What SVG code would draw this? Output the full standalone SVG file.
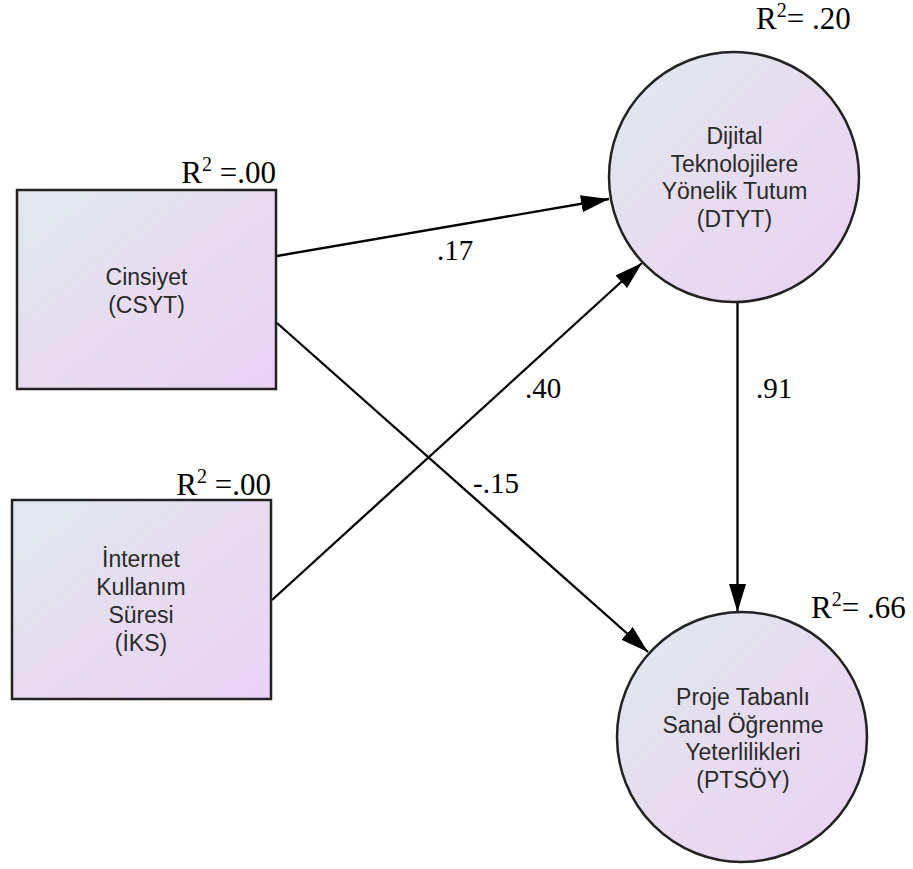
<svg xmlns="http://www.w3.org/2000/svg" width="913" height="869" viewBox="0 0 913 869">
  <defs>
    <linearGradient id="nodeFill" x1="0" y1="0" x2="1" y2="1">
      <stop offset="0" stop-color="#dfe9eb"/>
      <stop offset="0.5" stop-color="#e6dcf0"/>
      <stop offset="1" stop-color="#ebd1f5"/>
    </linearGradient>
    <marker id="arrow" viewBox="0 0 28 17" refX="28" refY="8.5" markerWidth="28" markerHeight="17" markerUnits="userSpaceOnUse" orient="auto">
      <path d="M0,0 L28,8.5 L0,17 Z" fill="#000"/>
    </marker>
    <style>
      .box { fill: url(#nodeFill); stroke: #222; stroke-width: 2.5; }
      .lbl { font-family: "Liberation Sans", Arial, sans-serif; font-size: 23px; fill: #2a2a2a; text-anchor: middle; }
      .num { font-family: "Liberation Serif", "Times New Roman", serif; font-size: 29px; fill: #000; }
      .rsq { font-size: 31px; }
      .sup { font-size: 20px; }
      .edge { stroke: #000; stroke-width: 2.3; fill: none; marker-end: url(#arrow); }
    </style>
  </defs>
  <rect width="913" height="869" fill="#fff"/>

  <!-- paths between constructs -->
  <g id="connectors">
    <line class="edge" x1="277" y1="256" x2="609" y2="199"/>
    <line class="edge" x1="277" y1="323" x2="648" y2="652"/>
    <line class="edge" x1="272" y1="600" x2="642" y2="263"/>
    <line class="edge" x1="737.5" y1="302" x2="737.5" y2="612"/>
    <text class="num" x="437" y="260">.17</text>
    <text class="num" x="525" y="398">.40</text>
    <text class="num" x="756" y="398">.91</text>
    <text class="num" x="473" y="493">-.15</text>
  </g>

  <g id="csyt">
    <rect class="box" x="17" y="190" width="259" height="199"/>
    <text class="lbl" x="146.5" y="285">Cinsiyet</text>
    <text class="lbl" x="146.5" y="312.5">(CSYT)</text>
    <text class="num rsq" x="276" y="183" text-anchor="end">R<tspan class="sup" dy="-12">2</tspan><tspan dy="12"> =.00</tspan></text>
  </g>

  <g id="iks">
    <rect class="box" x="12" y="500" width="259" height="199"/>
    <text class="lbl" x="141" y="567">İnternet</text>
    <text class="lbl" x="141" y="595">Kullanım</text>
    <text class="lbl" x="141" y="623">Süresi</text>
    <text class="lbl" x="141" y="650.5">(İKS)</text>
    <text class="num rsq" x="271" y="495" text-anchor="end">R<tspan class="sup" dy="-12">2</tspan><tspan dy="12"> =.00</tspan></text>
  </g>

  <g id="dtyt">
    <circle class="box" cx="734" cy="177" r="125"/>
    <text class="lbl" x="734.5" y="144">Dijital</text>
    <text class="lbl" x="734.5" y="171.5">Teknolojilere</text>
    <text class="lbl" x="734.5" y="199">Yönelik Tutum</text>
    <text class="lbl" x="734.5" y="227">(DTYT)</text>
    <text class="num rsq" x="756" y="29">R<tspan class="sup" dy="-12">2</tspan><tspan dy="12">= .20</tspan></text>
  </g>

  <g id="ptsoy">
    <circle class="box" cx="742" cy="737" r="125"/>
    <text class="lbl" x="743" y="705">Proje Tabanlı</text>
    <text class="lbl" x="743" y="733">Sanal Öğrenme</text>
    <text class="lbl" x="743" y="760">Yeterlilikleri</text>
    <text class="lbl" x="743" y="788">(PTSÖY)</text>
    <text class="num rsq" x="811" y="618">R<tspan class="sup" dy="-12">2</tspan><tspan dy="12">= .66</tspan></text>
  </g>
</svg>
